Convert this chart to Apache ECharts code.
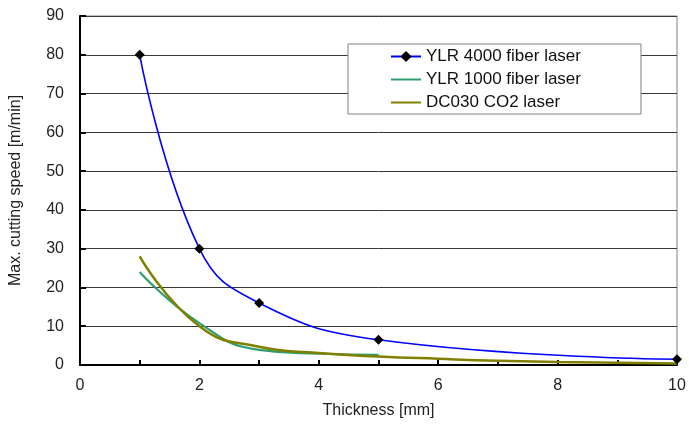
<!DOCTYPE html>
<html><head><meta charset="utf-8">
<script src="https://cdn.jsdelivr.net/npm/echarts@6/dist/echarts.min.js"></script>
<style>html,body{margin:0;padding:0;background:#fff}#c{width:689px;height:436px}</style>
</head><body><div id="c"></div>
<script>
const seriesNames = ['YLR 4000 fiber laser', 'YLR 1000 fiber laser', 'DC030 CO2 laser'];
const ylr4000 = [[1, 80], [2, 30], [3, 16], [5, 6.5], [10, 1.5]];
const ylr1000 = [[1, 24], [2, 10.8], [3, 3.9], [4, 2.9], [5, 2.6]];
const co2 = [[1, 28], [2, 10], [3, 4.7], [4, 3.1], [5, 2.2], [6, 1.6], [7, 1.1], [8, 0.8], [10, 0.4]];
const xTicks = [0, 2, 4, 6, 8, 10];
const yTicks = [0, 10, 20, 30, 40, 50, 60, 70, 80, 90];

const font = 'Liberation Sans';
const chart = echarts.init(document.getElementById('c'), null, {renderer: 'canvas'});
chart.setOption({
  animation: false,
  backgroundColor: '#fff',
  grid: {left: 80, right: 12, top: 16, bottom: 71, show: true, borderColor: '#808080', borderWidth: 1, backgroundColor: 'transparent'},
  legend: {
    orient: 'vertical', left: 348, top: 44,
    backgroundColor: '#fff', borderColor: '#808080', borderWidth: 1,
    padding: [4, 60, 3, 42], itemWidth: 30, itemHeight: 14, itemGap: 6,
    textStyle: {fontFamily: font, fontSize: 17, color: '#111'},
    data: [
      {name: seriesNames[0]},
      {name: seriesNames[1], itemStyle: {opacity: 0}},
      {name: seriesNames[2], itemStyle: {opacity: 0}}
    ]
  },
  xAxis: {
    type: 'value', min: 0, max: 10, interval: 1,
    name: 'Thickness [mm]', nameLocation: 'middle', nameGap: 38,
    nameTextStyle: {fontFamily: font, fontSize: 16, color: '#222'},
    axisLine: {show: true, lineStyle: {color: '#000', width: 2}},
    axisTick: {show: true, inside: true, length: 5, lineStyle: {color: '#000', width: 2}},
    axisLabel: {fontFamily: font, fontSize: 16, color: '#222', margin: 13,
      formatter: v => xTicks.includes(v) ? String(v) : ''},
    splitLine: {show: false}
  },
  yAxis: {
    type: 'value', min: 0, max: 90, interval: 10,
    name: 'Max. cutting speed [m/min]', nameLocation: 'middle', nameGap: 56, nameRotate: 90,
    nameTextStyle: {fontFamily: font, fontSize: 16, color: '#222'},
    axisLine: {show: true, lineStyle: {color: '#000', width: 2}},
    axisTick: {show: true, inside: true, length: 6, lineStyle: {color: '#000', width: 2}},
    axisLabel: {fontFamily: font, fontSize: 16, color: '#222', margin: 16,
      formatter: v => yTicks.includes(v) ? String(v) : ''},
    splitLine: {show: true, lineStyle: {color: '#3a3a3a', width: 1}}
  },
  series: [
    {name: seriesNames[0], type: 'line', data: ylr4000, smooth: 0.45,
      symbol: 'diamond', symbolSize: 10, showSymbol: true,
      itemStyle: {color: '#000'}, lineStyle: {color: '#0000ff', width: 1.6}, z: 5},
    {name: seriesNames[1], type: 'line', data: ylr1000, smooth: 0.5, symbol: 'none',
      itemStyle: {color: '#2e9e6e'}, lineStyle: {color: '#2e9e6e', width: 2.2}, z: 3},
    {name: seriesNames[2], type: 'line', data: co2, smooth: 0.5, symbol: 'none',
      itemStyle: {color: '#808000'}, lineStyle: {color: '#808000', width: 2.5}, z: 4}
  ]
});
</script></body></html>
